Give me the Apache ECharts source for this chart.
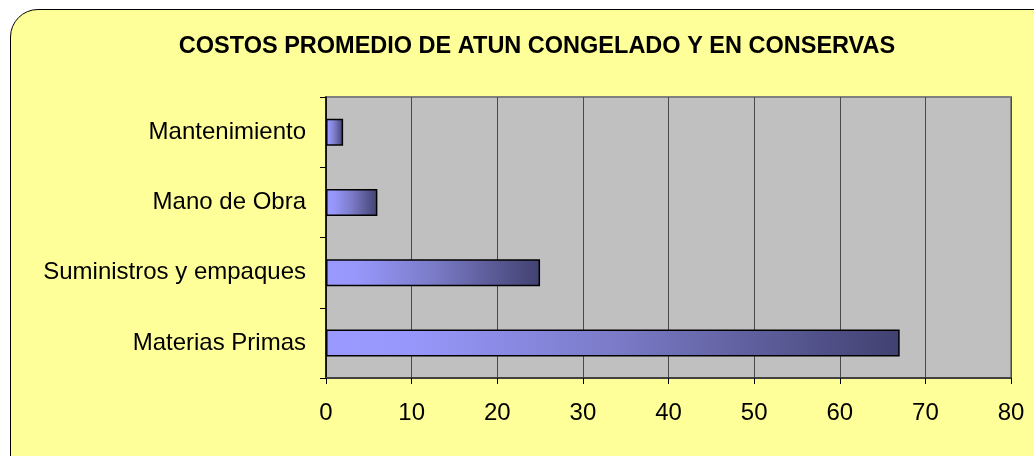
<!DOCTYPE html>
<html>
<head>
<meta charset="utf-8">
<script src="https://cdn.jsdelivr.net/npm/echarts@6/dist/echarts.min.js"></script>
<style>
  html, body { margin: 0; padding: 0; background: #fff; overflow: hidden; }
  #wrap { position: relative; width: 1034px; height: 456px; overflow: hidden; }
  #panel {
    position: absolute; left: 10px; top: 9px; width: 1060px; height: 480px;
    background: #FFFF99; border: 1.5px solid #000; border-radius: 28px;
  }
  #main { position: absolute; left: 0; top: 0; width: 1034px; height: 456px; }
</style>
</head>
<body>
<div id="wrap">
  <div id="panel"></div>
  <div id="main"></div>
</div>
<script>
// categories bottom -> top
const categories = ['Materias Primas', 'Suministros y empaques', 'Mano de Obra', 'Mantenimiento']
const costos = [67, 25, 6, 2]
const xTicks = [0, 10, 20, 30, 40, 50, 60, 70, 80]

const chart = echarts.init(document.getElementById('main'))

const barColor = new echarts.graphic.LinearGradient(0, 0, 1, 0, [
    { offset: 0, color: '#9999FF' },
    { offset: 0.15, color: '#9797FB' },
    { offset: 0.5, color: '#7B7BC8' },
    { offset: 1, color: '#414171' }
])

const option = {
    animation: false,
    textStyle: { fontFamily: 'Liberation Sans, Arial, sans-serif' },
    title: {
        text: 'COSTOS PROMEDIO DE ATUN CONGELADO Y EN CONSERVAS',
        left: 532,
        textAlign: 'center',
        top: 30,
        textStyle: { fontSize: 23.5, fontWeight: 'bold', color: '#000', fontFamily: 'Liberation Sans, Arial, sans-serif' }
    },
    grid: {
        left: 326,
        right: 23,
        top: 97,
        bottom: 78,
        show: true,
        backgroundColor: '#C0C0C0',
        borderColor: '#808080',
        borderWidth: 2
    },
    xAxis: {
        type: 'value',
        min: xTicks[0],
        max: xTicks[xTicks.length - 1],
        interval: 10,
        axisLine: { show: true, lineStyle: { color: '#404040', width: 2 } },
        axisTick: { show: true, length: 6, lineStyle: { color: '#000' } },
        axisLabel: { color: '#000', fontSize: 24, margin: 23 },
        splitLine: { show: true, lineStyle: { color: '#4a4a4a', width: 1 } }
    },
    yAxis: {
        type: 'category',
        data: categories,
        axisLine: { show: true, lineStyle: { color: '#000', width: 1.5 } },
        axisTick: { show: true, length: 6, lineStyle: { color: '#000' } },
        axisLabel: { color: '#000', fontSize: 24, margin: 20 },
        splitLine: { show: false }
    },
    series: [{
        type: 'bar',
        data: costos,
        barWidth: 27,
        itemStyle: { color: barColor, borderColor: '#000', borderWidth: 1.5 }
    }]
}

chart.setOption(option)
</script>
</body>
</html>
